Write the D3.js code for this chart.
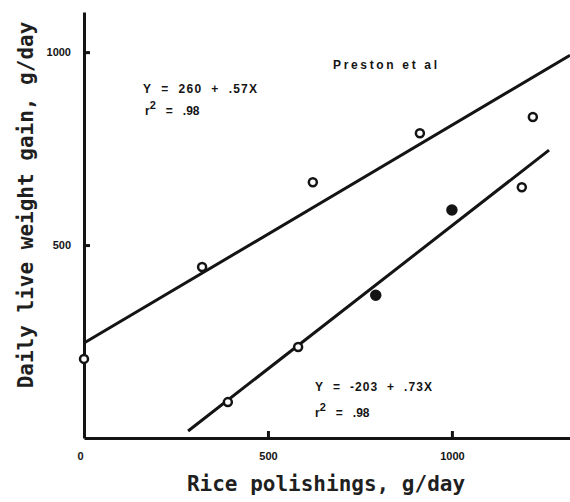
<!DOCTYPE html>
<html>
<head>
<meta charset="utf-8">
<script src="https://cdn.jsdelivr.net/npm/d3@7"></script>
<style>
	body { margin: 0; background: #fff; }
	svg { display: block; }
	.axis path, .axis line { stroke: #141414; stroke-width: 3; }
	.axis text { font-family: "Liberation Sans", Arial, sans-serif; font-weight: bold; font-size: 11px; fill: #141414; }
	.title { font-family: "DejaVu Sans Mono", monospace; font-weight: bold; font-size: 21px; fill: #1f1f1f; }
	.note { font-family: "Liberation Sans", Arial, sans-serif; font-weight: bold; font-size: 12px; fill: #141414; }
</style>
</head>
<body>
<svg width="570" height="502"></svg>
<script>
'use strict';

// Preston et al, open/closed circles
const upperX = [0, 321, 622, 913, 1220];
const upperY = [205, 443, 663, 790, 832];
const lowerX = [391, 582, 793, 1000, 1190];
const lowerY = [93, 236, 370, 591, 650];
const lowerFilled = [false, false, true, true, false];

// fitted lines as drawn (end points)
const upperLineX = [0, 1321];
const upperLineY = [246, 992];
const lowerLineX = [283, 1264];
const lowerLineY = [18, 746];

const xTicks = [0, 500, 1000];
const yTicks = [500, 1000];

const svg = d3.select("svg");

const x = d3.scaleLinear().domain([0, 1321]).range([84, 570]);
const y = d3.scaleLinear().domain([0, 1104]).range([438, 12]);

// axes
svg.append("g")
	.attr("class", "axis")
	.attr("transform", "translate(0," + y(0) + ")")
	.call(d3.axisBottom(x).tickValues(xTicks).tickSize(-7).tickSizeOuter(0).tickPadding(14).tickFormat(d3.format("d")))
	.call(g => g.selectAll(".tick line").filter(d => d === 0).remove())
	.call(g => g.selectAll(".tick text").filter(d => d === 0).attr("dx", -4));

svg.append("g")
	.attr("class", "axis")
	.attr("transform", "translate(" + x(0) + ",0)")
	.call(d3.axisLeft(y).tickValues(yTicks).tickSize(-6).tickSizeOuter(0).tickPadding(13).tickFormat(d3.format("d")));

// regression lines
const line = d3.line().x(d => x(d[0])).y(d => y(d[1]));
[[upperLineX, upperLineY], [lowerLineX, lowerLineY]].forEach(l => {
	svg.append("path")
		.datum(d3.zip(l[0], l[1]))
		.attr("d", line)
		.attr("fill", "none")
		.attr("stroke", "#141414")
		.attr("stroke-width", 3);
});

// points
svg.append("g").selectAll("circle")
	.data(d3.zip(upperX, upperY))
	.enter().append("circle")
	.attr("cx", d => x(d[0]))
	.attr("cy", d => y(d[1]))
	.attr("r", 4)
	.attr("fill", "#fff")
	.attr("stroke", "#141414")
	.attr("stroke-width", 2.5);

svg.append("g").selectAll("circle")
	.data(lowerX.map((v, i) => ({x: v, y: lowerY[i], filled: lowerFilled[i]})))
	.enter().append("circle")
	.attr("cx", d => x(d.x))
	.attr("cy", d => y(d.y))
	.attr("r", d => d.filled ? 4.5 : 4)
	.attr("fill", d => d.filled ? "#141414" : "#fff")
	.attr("stroke", "#141414")
	.attr("stroke-width", 2.5);

// axis titles
svg.append("text")
	.attr("class", "title")
	.attr("x", 326).attr("y", 491)
	.attr("text-anchor", "middle")
	.text("Rice polishings, g/day");

svg.append("text")
	.attr("class", "title")
	.attr("transform", "translate(33,205) rotate(-90)")
	.attr("text-anchor", "middle")
	.text("Daily live weight gain, g/day");

// notes
const sp = "\u00a0\u00a0";
function note(tx, ty, str, len) {
	svg.append("text")
		.attr("class", "note")
		.attr("x", tx).attr("y", ty)
		.attr("textLength", len)
		.attr("lengthAdjust", "spacing")
		.text(str);
}
function rsq(tx, ty) {
	const t = svg.append("text")
		.attr("class", "note")
		.attr("x", tx).attr("y", ty);
	t.append("tspan").text("r");
	t.append("tspan").attr("dy", -6).attr("font-size", 11).text("2");
	t.append("tspan").attr("dy", 6).text("\u00a0\u00a0\u00a0=\u00a0\u00a0\u00a0.98");
}

note(333, 69, "Preston et al", 104);
note(143, 93, ["Y", "=", "260", "+", ".57X"].join(sp), 114);
rsq(145, 115);
note(315, 391, ["Y", "=", "-203", "+", ".73X"].join(sp), 117);
rsq(315, 417);
</script>
</body>
</html>
